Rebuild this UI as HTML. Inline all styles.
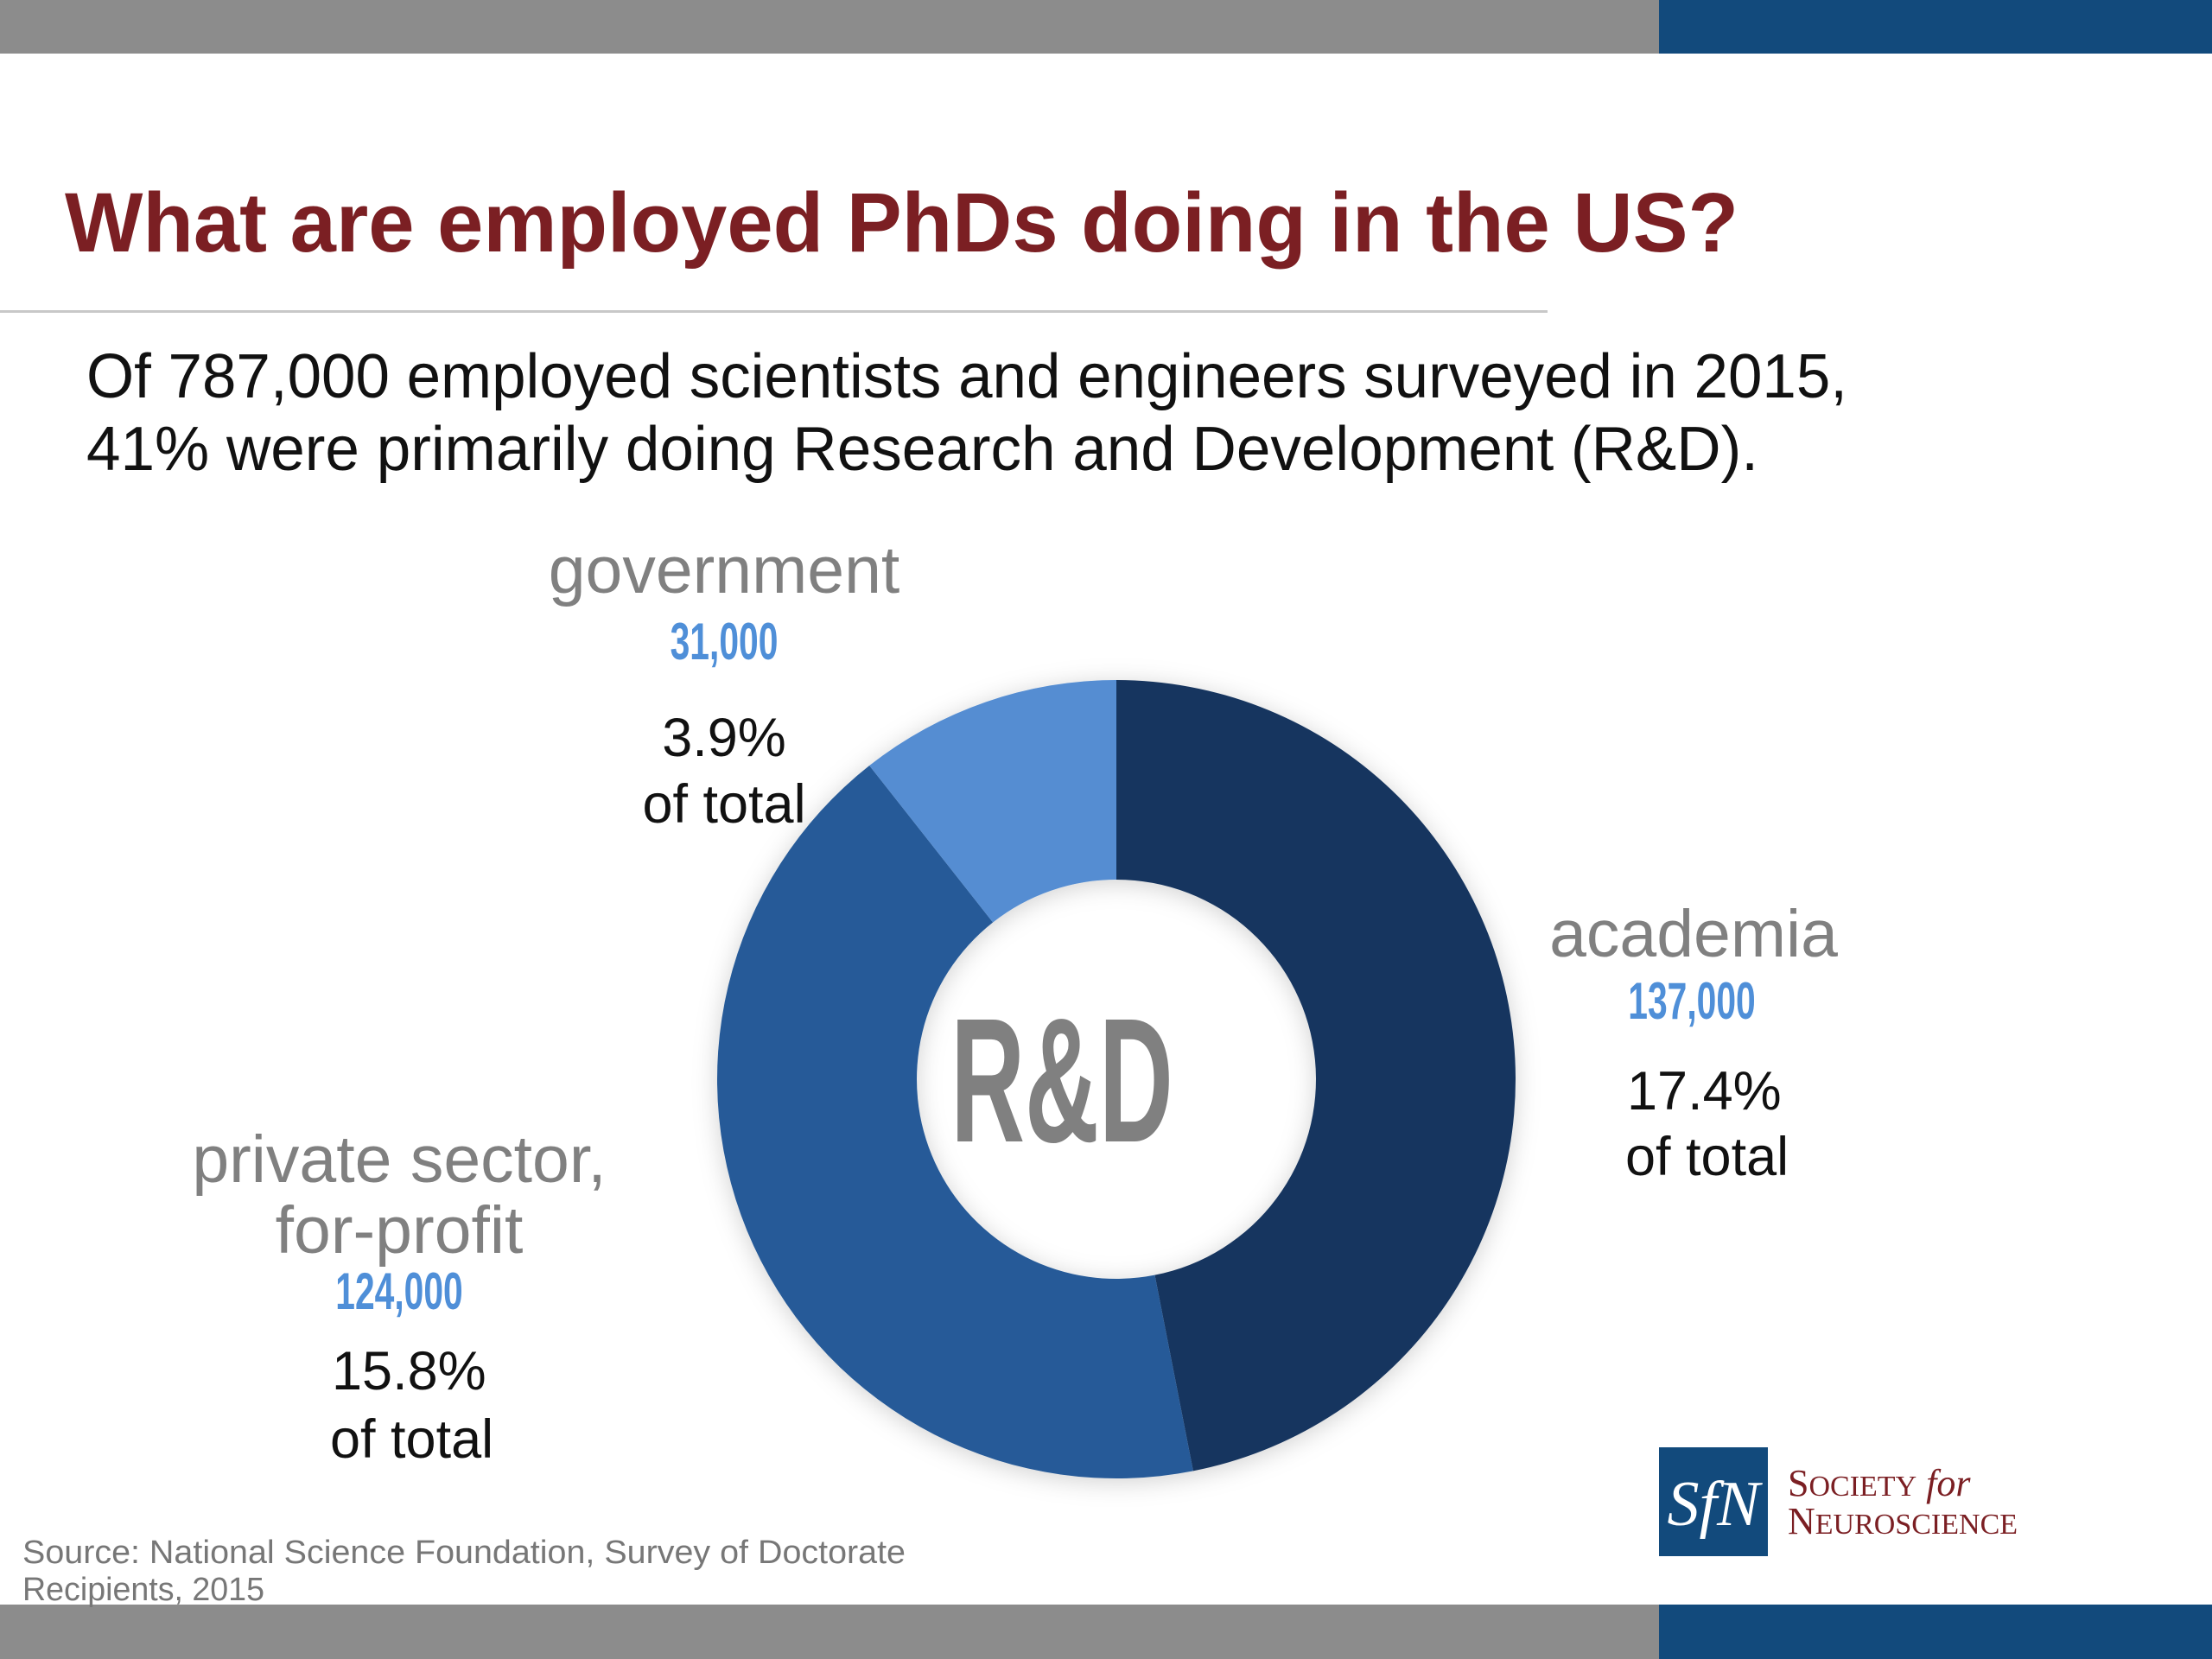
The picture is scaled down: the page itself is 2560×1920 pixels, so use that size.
<!DOCTYPE html>
<html><head><meta charset="utf-8">
<style>
html,body{margin:0;padding:0;background:#fff;}
body{width:2560px;height:1920px;position:relative;overflow:hidden;font-family:"Liberation Sans",sans-serif;}
svg{position:absolute;left:0;top:0;}
</style></head>
<body>
<svg width="2560" height="1920" viewBox="0 0 2560 1920">
  <defs>
    <filter id="sh" x="-20%" y="-20%" width="140%" height="140%">
      <feDropShadow dx="0" dy="4" stdDeviation="14" flood-color="#000" flood-opacity="0.18"/>
    </filter>
  </defs>
  <rect x="0" y="0" width="1920" height="62" fill="#8c8c8c"/>
  <rect x="1920" y="0" width="640" height="62" fill="#124a7c"/>
  <rect x="0" y="1857" width="1920" height="63" fill="#8c8c8c"/>
  <rect x="1920" y="1857" width="640" height="63" fill="#124a7c"/>

  <text x="75" y="291" font-size="97" font-weight="bold" fill="#7b1f23" textLength="1937" lengthAdjust="spacingAndGlyphs">What are employed PhDs doing in the US?</text>
  <rect x="0" y="359" width="1791" height="3" fill="#c8c8c8"/>

  <text x="100" y="460" font-size="72" fill="#111" textLength="2038" lengthAdjust="spacingAndGlyphs">Of 787,000 employed scientists and engineers surveyed in 2015,</text>
  <text x="100" y="544" font-size="72" fill="#111" textLength="1935" lengthAdjust="spacingAndGlyphs">41% were primarily doing Research and Development (R&amp;D).</text>

  <g id="donut" filter="url(#sh)"></g>
  <g transform="translate(1229,1321) scale(0.58,1)">
    <text x="0" y="0" font-size="205" font-weight="bold" fill="#808080" text-anchor="middle">R&amp;D</text>
  </g>

  <text x="838" y="686" font-size="77" fill="#808080" text-anchor="middle">government</text>
  <g transform="translate(838,763) scale(0.68,1)"><text font-size="60" font-weight="bold" fill="#4f8fd8" text-anchor="middle">31,000</text></g>
  <text x="838" y="875" font-size="63" fill="#111" text-anchor="middle">3.9%</text>
  <text x="838" y="952" font-size="63" fill="#111" text-anchor="middle">of total</text>

  <text x="1960" y="1107" font-size="77" fill="#808080" text-anchor="middle">academia</text>
  <g transform="translate(1958,1179) scale(0.68,1)"><text font-size="60" font-weight="bold" fill="#4f8fd8" text-anchor="middle">137,000</text></g>
  <text x="1883" y="1284" font-size="63" fill="#111">17.4%</text>
  <text x="1881" y="1360" font-size="63" fill="#111">of total</text>

  <text x="462" y="1368" font-size="77" fill="#808080" text-anchor="middle">private sector,</text>
  <text x="462" y="1450" font-size="77" fill="#808080" text-anchor="middle">for-profit</text>
  <g transform="translate(462,1515) scale(0.68,1)"><text font-size="60" font-weight="bold" fill="#4f8fd8" text-anchor="middle">124,000</text></g>
  <text x="384" y="1608" font-size="63" fill="#111">15.8%</text>
  <text x="382" y="1687" font-size="63" fill="#111">of total</text>

  <text x="26" y="1809" font-size="38" fill="#777" textLength="1022" lengthAdjust="spacingAndGlyphs">Source: National Science Foundation, Survey of Doctorate</text>
  <text x="26" y="1852" font-size="38" fill="#777" textLength="280" lengthAdjust="spacingAndGlyphs">Recipients, 2015</text>

  <g>
    <rect x="1920" y="1675" width="126" height="126" fill="#124a7c"/>
    <text x="1983" y="1765" font-family="Liberation Serif,serif" font-size="74" fill="#fff" text-anchor="middle" font-style="italic">SfN</text>
    <text x="2069" y="1731" font-family="Liberation Serif,serif" font-size="44" fill="#7b1f23">S<tspan font-size="34">OCIETY</tspan> <tspan font-style="italic">for</tspan></text>
    <text x="2069" y="1775" font-family="Liberation Serif,serif" font-size="44" fill="#7b1f23">N<tspan font-size="34">EUROSCIENCE</tspan></text>
  </g>
</svg>
<script>
const categories = ["academia", "private-sector", "government"];
const values = [137000, 124000, 31000];
const colors = ["#17355e", "#255a98", "#548dd2"];
const cx = 1292, cy = 1249, R = 462, r = 231;
const NS = "http://www.w3.org/2000/svg";
const g = document.getElementById("donut");
const total = values.reduce((a, b) => a + b, 0);
function pt(a, rad) { return [cx + rad * Math.sin(a), cy - rad * Math.cos(a)]; }
let a0 = 0;
values.forEach((v, i) => {
  const a1 = a0 + v / total * 2 * Math.PI;
  const large = (a1 - a0) > Math.PI ? 1 : 0;
  const p1 = pt(a0, R), p2 = pt(a1, R), p3 = pt(a1, r), p4 = pt(a0, r);
  const d = `M${p1[0]},${p1[1]} A${R},${R} 0 ${large} 1 ${p2[0]},${p2[1]} L${p3[0]},${p3[1]} A${r},${r} 0 ${large} 0 ${p4[0]},${p4[1]} Z`;
  const path = document.createElementNS(NS, "path");
  path.setAttribute("d", d);
  path.setAttribute("fill", colors[i]);
  
  
  g.appendChild(path);
  a0 = a1;
});
</script>
</body></html>
